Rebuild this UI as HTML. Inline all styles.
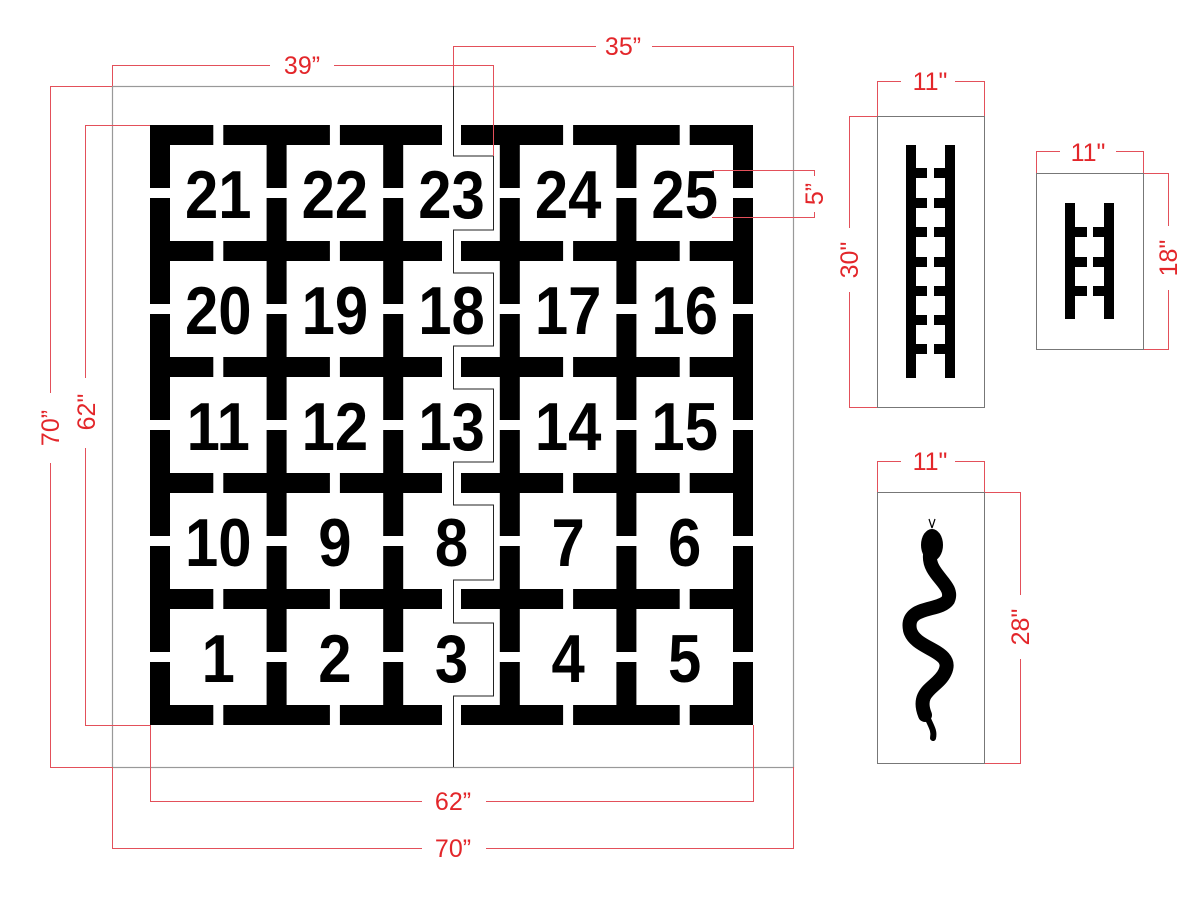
<!DOCTYPE html>
<html><head><meta charset="utf-8"><style>
html,body{margin:0;padding:0;background:#fff}
svg{display:block}
.n{font-family:"Liberation Sans",sans-serif;font-weight:bold;font-size:68px;fill:#000}
.d{font-family:"Liberation Sans",sans-serif;font-size:25px;fill:#e3262a}
</style></head><body>
<svg width="1200" height="920" viewBox="0 0 1200 920" xmlns="http://www.w3.org/2000/svg">
<defs>
<g id="v">
<rect x="0" y="125" width="20" height="63"/>
<rect x="0" y="198" width="20" height="106"/>
<rect x="0" y="314" width="20" height="106"/>
<rect x="0" y="430" width="20" height="106"/>
<rect x="0" y="546" width="20" height="106"/>
<rect x="0" y="662" width="20" height="63"/>
</g>
<g id="h">
<rect x="150" y="0" width="63.3" height="20"/>
<rect x="223.3" y="0" width="106.6" height="20"/>
<rect x="339.9" y="0" width="102.1" height="20"/>
<rect x="461" y="0" width="102.1" height="20"/>
<rect x="573.1" y="0" width="106.6" height="20"/>
<rect x="689.7" y="0" width="63.3" height="20"/>
</g>
</defs>
<rect width="1200" height="920" fill="#fff"/>
<rect x="112.5" y="86.5" width="681" height="681" fill="none" stroke="#999" stroke-width="1.2"/>
<g fill="#000">
<use href="#v" x="150"/><use href="#v" x="266.6"/><use href="#v" x="383.2"/>
<use href="#v" x="499.8"/><use href="#v" x="616.4"/><use href="#v" x="733"/>
<use href="#h" y="125"/><use href="#h" y="241"/><use href="#h" y="357"/>
<use href="#h" y="473"/><use href="#h" y="589"/><use href="#h" y="705"/>
</g>
<g class="n" text-anchor="middle">
<text transform="translate(218.3,218) scale(0.88,1)">21</text>
<text transform="translate(334.9,218) scale(0.88,1)">22</text>
<text transform="translate(451.5,218) scale(0.88,1)">23</text>
<text transform="translate(568.1,218) scale(0.88,1)">24</text>
<text transform="translate(684.7,218) scale(0.88,1)">25</text>
<text transform="translate(218.3,334) scale(0.88,1)">20</text>
<text transform="translate(334.9,334) scale(0.88,1)">19</text>
<text transform="translate(451.5,334) scale(0.88,1)">18</text>
<text transform="translate(568.1,334) scale(0.88,1)">17</text>
<text transform="translate(684.7,334) scale(0.88,1)">16</text>
<text transform="translate(218.3,450) scale(0.88,1)">11</text>
<text transform="translate(334.9,450) scale(0.88,1)">12</text>
<text transform="translate(451.5,450) scale(0.88,1)">13</text>
<text transform="translate(568.1,450) scale(0.88,1)">14</text>
<text transform="translate(684.7,450) scale(0.88,1)">15</text>
<text transform="translate(218.3,566) scale(0.88,1)">10</text>
<text transform="translate(334.9,566) scale(0.88,1)">9</text>
<text transform="translate(451.5,566) scale(0.88,1)">8</text>
<text transform="translate(568.1,566) scale(0.88,1)">7</text>
<text transform="translate(684.7,566) scale(0.88,1)">6</text>
<text transform="translate(218.3,682) scale(0.88,1)">1</text>
<text transform="translate(334.9,682) scale(0.88,1)">2</text>
<text transform="translate(451.5,682) scale(0.88,1)">3</text>
<text transform="translate(568.1,682) scale(0.88,1)">4</text>
<text transform="translate(684.7,682) scale(0.88,1)">5</text>
</g>
<path d="M453.5 46 V156 H493.5 V230 H453.5 V273 H493.5 V346 H453.5 V389 H493.5 V462 H453.5 V505 H493.5 V580 H453.5 V623 H493.5 V696 H453.5 V767" fill="none" stroke="#222" stroke-width="1"/>
<g fill="none" stroke="#e3505a" stroke-width="1">
<path d="M112.5 86 V65.5 H493.5 V156"/>
<path d="M453.5 86 V46.5 H793.5 V86"/>
<path d="M112 86.5 H50.5 V767.5 H112"/>
<path d="M150 125.5 H85.5 V725.5 H150"/>
<path d="M150.5 725 V801.5 H753.5 V725"/>
<path d="M112.5 767 V848.5 H793.5 V767"/>
<path d="M712 170.5 H814.5 V217.5 H712"/>
<path d="M877.5 116 V81.5 H984.5 V116"/>
<path d="M877 116.5 H849.5 V407.5 H877"/>
<path d="M1036.5 173 V151.5 H1143.5 V173"/>
<path d="M1143 173.5 H1168.5 V349.5 H1143"/>
<path d="M877.5 492 V461.5 H984.5 V492"/>
<path d="M984 492.5 H1020.5 V763.5 H984"/>
</g>
<g fill="#fff">
<rect x="270" y="52" width="64" height="28"/>
<rect x="596" y="33" width="56" height="28"/>
<rect x="422" y="788" width="64" height="28"/>
<rect x="422" y="835" width="64" height="28"/>
<rect x="37" y="393" width="26" height="70"/>
<rect x="73" y="378" width="26" height="70"/>
<rect x="901" y="68" width="54" height="28"/>
<rect x="1060" y="138" width="56" height="28"/>
<rect x="901" y="448" width="54" height="28"/>
<rect x="836" y="228" width="26" height="64"/>
<rect x="1155" y="226" width="26" height="64"/>
<rect x="1007" y="595" width="26" height="64"/>
<rect x="803" y="176" width="24" height="36"/>
</g>
<g class="d" text-anchor="middle">
<text x="302" y="74">39”</text>
<text x="623" y="55">35”</text>
<text x="453" y="810">62”</text>
<text x="453" y="857">70”</text>
<text transform="translate(59,428) rotate(-90)">70”</text>
<text transform="translate(95,412) rotate(-90)">62"</text>
<text x="930" y="90">11"</text>
<text x="1088" y="161">11"</text>
<text x="930" y="470">11"</text>
<text transform="translate(858,260) rotate(-90)">30"</text>
<text transform="translate(1177,258) rotate(-90)">18"</text>
<text transform="translate(1029,627) rotate(-90)">28"</text>
<text transform="translate(823,194) rotate(-90)">5”</text>
</g>
<rect x="877.5" y="116.5" width="107" height="291" fill="none" stroke="#777" stroke-width="1"/>
<g fill="#000">
<rect x="906" y="145" width="10" height="233"/><rect x="945" y="145" width="10" height="233"/>
<rect x="916" y="168" width="11" height="10"/><rect x="934" y="168" width="11" height="10"/>
<rect x="916" y="198" width="11" height="10"/><rect x="934" y="198" width="11" height="10"/>
<rect x="916" y="227" width="11" height="10"/><rect x="934" y="227" width="11" height="10"/>
<rect x="916" y="257" width="11" height="10"/><rect x="934" y="257" width="11" height="10"/>
<rect x="916" y="286" width="11" height="10"/><rect x="934" y="286" width="11" height="10"/>
<rect x="916" y="315" width="11" height="10"/><rect x="934" y="315" width="11" height="10"/>
<rect x="916" y="344" width="11" height="10"/><rect x="934" y="344" width="11" height="10"/>
</g>
<rect x="1036.5" y="173.5" width="107" height="176" fill="none" stroke="#777" stroke-width="1"/>
<g fill="#000">
<rect x="1065" y="203" width="10" height="116"/><rect x="1104" y="203" width="10" height="116"/>
<rect x="1075" y="227" width="12" height="10"/><rect x="1093" y="227" width="11" height="10"/>
<rect x="1075" y="257" width="12" height="10"/><rect x="1093" y="257" width="11" height="10"/>
<rect x="1075" y="286" width="12" height="10"/><rect x="1093" y="286" width="11" height="10"/>
</g>
<rect x="877.5" y="492.5" width="107" height="271" fill="none" stroke="#777" stroke-width="1"/>
<path d="M932 528 L929 519 M932 528 L935 519" stroke="#000" stroke-width="1.2" fill="none"/>
<ellipse cx="932" cy="545" rx="11" ry="16" fill="#000"/>
<path d="M930 555 C928 575, 955 585, 948 600 C940 612, 905 605, 910 630 C915 650, 955 650, 945 672 C938 688, 915 690, 925 715" fill="none" stroke="#000" stroke-width="14" stroke-linecap="round"/>
<path d="M925 712 C930 725, 935 730, 933 738" fill="none" stroke="#000" stroke-width="6" stroke-linecap="round"/>
</svg>
</body></html>
